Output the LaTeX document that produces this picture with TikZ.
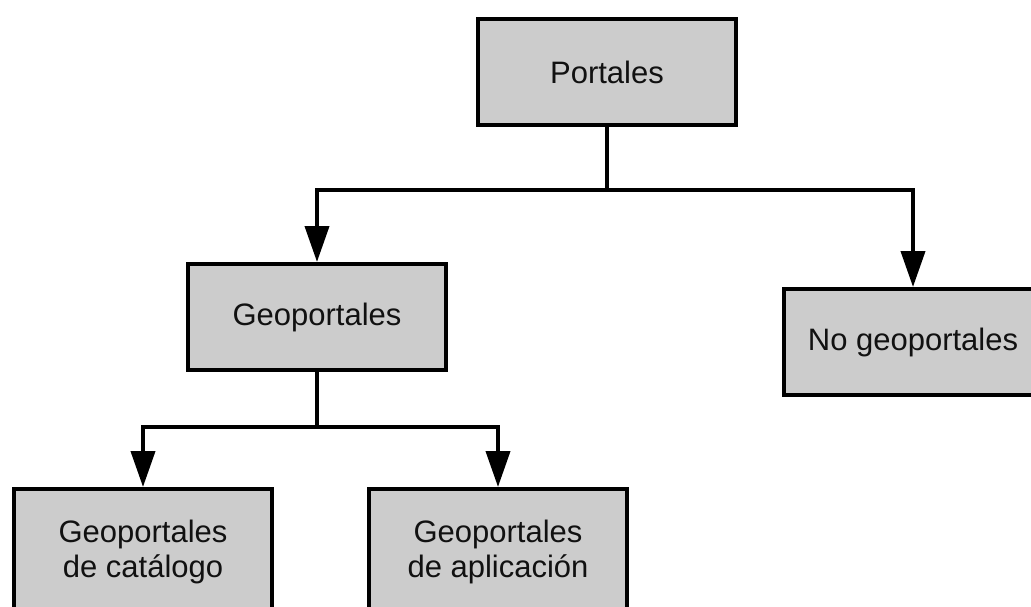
\documentclass[tikz,border=0pt]{standalone}
\usepackage{fontspec}
\setmainfont{Liberation Sans}
\usetikzlibrary{arrows.meta}

\definecolor{cajagris}{HTML}{CCCCCC}
\definecolor{texto}{HTML}{111111}

\tikzset{
	caja/.style={draw=black, fill=cajagris, line width=4pt, minimum width=258pt,
		minimum height=106pt, inner sep=0pt, align=center, text=texto,
		font=\fontsize{31}{35}\selectfont},
	linea/.style={draw=black, line width=4pt},
	flecha/.style={linea, -{Triangle[length=36pt,width=24pt]}}
}

\begin{document}
\begin{tikzpicture}[x=1pt, y=-1pt]
		\useasboundingbox (0,0) rectangle (1031,607);
		\clip (0,0) rectangle (1031,607);

		% Cajas ---------------------------------------------------------------
		\node[caja] (portales) at (607, 72) {Portales};
		\node[caja] (geo) at (317, 317) {Geoportales};
		\node[caja] (nogeo) at (913, 342) {No geoportales};
		\node[caja, minimum height=126pt] (catalogo) at (143, 552) {Geoportales\\de catálogo};
		\node[caja, minimum height=126pt] (aplicacion) at (498, 552) {Geoportales\\de aplicación};

		% Conectores ----------------------------------------------------------
		\coordinate (bus1) at (607, 190); % barra bajo portales
		\coordinate (bus2) at (317, 427); % barra bajo geoportales

		\draw[flecha] (portales.south) |- (geo.north |- bus1) -- (geo.north);
		\draw[flecha] (bus1) -| (nogeo.north);

		\draw[flecha] (geo.south) |- (catalogo.north |- bus2) -- (catalogo.north);
		\draw[flecha] (bus2) -| (aplicacion.north);
	\end{tikzpicture}
\end{document}
